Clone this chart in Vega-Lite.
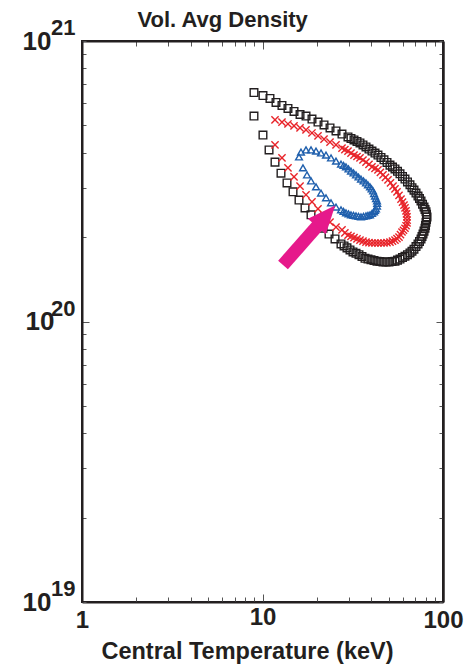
{
  "$schema": "https://vega.github.io/schema/vega-lite/v6.json",
  "width": 361,
  "height": 561,
  "autosize": "none",
  "padding": {"left": 82, "top": 41, "right": 28, "bottom": 67},
  "background": "white",
  "config": {
    "view": {"stroke": "#231f20", "strokeWidth": 2},
    "font": "Liberation Sans"
  },
  "datasets": {
    "pts": [
      {"s":"black","T":8.97,"n":5.40e20},{"s":"black","T":10.06,"n":4.62e20},{"s":"black","T":10.87,"n":4.09e20},{"s":"black","T":11.73,"n":3.70e20},{"s":"black","T":12.66,"n":3.38e20},{"s":"black","T":13.67,"n":3.12e20},{"s":"black","T":14.76,"n":2.90e20},{"s":"black","T":15.93,"n":2.71e20},{"s":"black","T":17.20,"n":2.54e20},{"s":"black","T":18.57,"n":2.40e20},{"s":"black","T":20.04,"n":2.26e20},{"s":"black","T":21.64,"n":2.15e20},{"s":"black","T":23.36,"n":2.05e20},{"s":"black","T":25.22,"n":1.97e20},{"s":"black","T":27.22,"n":1.89e20},{"s":"black","T":28.3,"n":1.86e20},{"s":"black","T":29.38,"n":1.83e20},{"s":"black","T":30.53,"n":1.80e20},{"s":"black","T":31.72,"n":1.77e20},{"s":"black","T":32.96,"n":1.75e20},{"s":"black","T":34.24,"n":1.73e20},{"s":"black","T":35.58,"n":1.705e20},{"s":"black","T":36.97,"n":1.68e20},{"s":"black","T":38.42,"n":1.67e20},{"s":"black","T":39.91,"n":1.66e20},{"s":"black","T":41.47,"n":1.65e20},{"s":"black","T":43.08,"n":1.64e20},{"s":"black","T":44.77,"n":1.635e20},{"s":"black","T":46.51,"n":1.63e20},{"s":"black","T":48.33,"n":1.63e20},{"s":"black","T":50.21,"n":1.63e20},{"s":"black","T":52.17,"n":1.635e20},{"s":"black","T":54.20,"n":1.64e20},{"s":"black","T":55.97,"n":1.655e20},{"s":"black","T":57.78,"n":1.67e20},{"s":"black","T":59.65,"n":1.69e20},{"s":"black","T":61.58,"n":1.71e20},{"s":"black","T":63.58,"n":1.73e20},{"s":"black","T":65.62,"n":1.755e20},{"s":"black","T":67.33,"n":1.78e20},{"s":"black","T":69.07,"n":1.81e20},{"s":"black","T":70.86,"n":1.85e20},{"s":"black","T":72.69,"n":1.89e20},{"s":"black","T":74.10,"n":1.93e20},{"s":"black","T":75.53,"n":1.97e20},{"s":"black","T":76.50,"n":2.01e20},{"s":"black","T":77.49,"n":2.05e20},{"s":"black","T":78.49,"n":2.10e20},{"s":"black","T":79.49,"n":2.15e20},{"s":"black","T":80.0,"n":2.20e20},{"s":"black","T":80.51,"n":2.26e20},{"s":"black","T":81.03,"n":2.31e20},{"s":"black","T":81.55,"n":2.36e20},{"s":"black","T":81.03,"n":2.41e20},{"s":"black","T":80.51,"n":2.46e20},{"s":"black","T":79.49,"n":2.51e20},{"s":"black","T":78.48,"n":2.56e20},{"s":"black","T":77.0,"n":2.62e20},{"s":"black","T":75.53,"n":2.69e20},{"s":"black","T":74.1,"n":2.745e20},{"s":"black","T":72.69,"n":2.80e20},{"s":"black","T":70.86,"n":2.87e20},{"s":"black","T":69.07,"n":2.94e20},{"s":"black","T":67.33,"n":3.00e20},{"s":"black","T":65.62,"n":3.07e20},{"s":"black","T":63.58,"n":3.145e20},{"s":"black","T":61.58,"n":3.22e20},{"s":"black","T":59.65,"n":3.29e20},{"s":"black","T":57.78,"n":3.36e20},{"s":"black","T":55.97,"n":3.43e20},{"s":"black","T":54.20,"n":3.50e20},{"s":"black","T":52.5,"n":3.555e20},{"s":"black","T":50.85,"n":3.61e20},{"s":"black","T":48.95,"n":3.69e20},{"s":"black","T":47.10,"n":3.77e20},{"s":"black","T":45.33,"n":3.845e20},{"s":"black","T":43.63,"n":3.92e20},{"s":"black","T":42.0,"n":3.985e20},{"s":"black","T":40.42,"n":4.05e20},{"s":"black","T":38.9,"n":4.12e20},{"s":"black","T":37.44,"n":4.19e20},{"s":"black","T":36.03,"n":4.26e20},{"s":"black","T":34.68,"n":4.33e20},{"s":"black","T":33.38,"n":4.385e20},{"s":"black","T":32.13,"n":4.44e20},{"s":"black","T":30.92,"n":4.495e20},{"s":"black","T":29.76,"n":4.55e20},{"s":"black","T":27.57,"n":4.66e20},{"s":"black","T":25.54,"n":4.78e20},{"s":"black","T":23.66,"n":4.90e20},{"s":"black","T":21.92,"n":5.02e20},{"s":"black","T":20.30,"n":5.14e20},{"s":"black","T":18.80,"n":5.27e20},{"s":"black","T":17.42,"n":5.40e20},{"s":"black","T":16.14,"n":5.47e20},{"s":"black","T":14.95,"n":5.61e20},{"s":"black","T":13.84,"n":5.75e20},{"s":"black","T":12.82,"n":5.89e20},{"s":"black","T":11.88,"n":6.04e20},{"s":"black","T":11.00,"n":6.24e20},{"s":"black","T":10.06,"n":6.39e20},{"s":"black","T":8.97,"n":6.55e20},
      {"s":"red","T":11.73,"n":4.26e20},{"s":"red","T":12.82,"n":3.83e20},{"s":"red","T":13.84,"n":3.53e20},{"s":"red","T":14.95,"n":3.28e20},{"s":"red","T":16.14,"n":3.04e20},{"s":"red","T":17.42,"n":2.83e20},{"s":"red","T":18.80,"n":2.67e20},{"s":"red","T":20.30,"n":2.52e20},{"s":"red","T":21.92,"n":2.38e20},{"s":"red","T":23.66,"n":2.26e20},{"s":"red","T":25.54,"n":2.17e20},{"s":"red","T":27.57,"n":2.12e20},{"s":"red","T":28.6,"n":2.07e20},{"s":"red","T":29.76,"n":2.03e20},{"s":"red","T":30.92,"n":2.01e20},{"s":"red","T":32.13,"n":1.99e20},{"s":"red","T":33.38,"n":1.97e20},{"s":"red","T":34.68,"n":1.95e20},{"s":"red","T":36.03,"n":1.935e20},{"s":"red","T":37.44,"n":1.92e20},{"s":"red","T":38.9,"n":1.91e20},{"s":"red","T":40.42,"n":1.905e20},{"s":"red","T":42.0,"n":1.905e20},{"s":"red","T":43.63,"n":1.905e20},{"s":"red","T":45.33,"n":1.905e20},{"s":"red","T":47.10,"n":1.905e20},{"s":"red","T":48.95,"n":1.91e20},{"s":"red","T":50.85,"n":1.92e20},{"s":"red","T":52.5,"n":1.935e20},{"s":"red","T":54.20,"n":1.95e20},{"s":"red","T":55.6,"n":1.975e20},{"s":"red","T":57.05,"n":2.00e20},{"s":"red","T":58.15,"n":2.04e20},{"s":"red","T":59.27,"n":2.085e20},{"s":"red","T":60.4,"n":2.115e20},{"s":"red","T":61.58,"n":2.15e20},{"s":"red","T":62.4,"n":2.195e20},{"s":"red","T":63.18,"n":2.245e20},{"s":"red","T":63.3,"n":2.30e20},{"s":"red","T":63.18,"n":2.36e20},{"s":"red","T":62.8,"n":2.42e20},{"s":"red","T":62.37,"n":2.48e20},{"s":"red","T":61.6,"n":2.54e20},{"s":"red","T":60.80,"n":2.60e20},{"s":"red","T":59.65,"n":2.665e20},{"s":"red","T":58.52,"n":2.73e20},{"s":"red","T":57.05,"n":2.815e20},{"s":"red","T":55.62,"n":2.90e20},{"s":"red","T":54.2,"n":2.97e20},{"s":"red","T":52.85,"n":3.04e20},{"s":"red","T":51.2,"n":3.12e20},{"s":"red","T":49.58,"n":3.20e20},{"s":"red","T":48.0,"n":3.265e20},{"s":"red","T":46.51,"n":3.33e20},{"s":"red","T":45.0,"n":3.40e20},{"s":"red","T":43.63,"n":3.47e20},{"s":"red","T":42.0,"n":3.515e20},{"s":"red","T":40.42,"n":3.56e20},{"s":"red","T":38.9,"n":3.63e20},{"s":"red","T":37.44,"n":3.70e20},{"s":"red","T":36.03,"n":3.765e20},{"s":"red","T":34.68,"n":3.83e20},{"s":"red","T":33.38,"n":3.875e20},{"s":"red","T":32.13,"n":3.92e20},{"s":"red","T":30.92,"n":3.985e20},{"s":"red","T":29.76,"n":4.05e20},{"s":"red","T":28.6,"n":4.10e20},{"s":"red","T":27.57,"n":4.15e20},{"s":"red","T":25.54,"n":4.26e20},{"s":"red","T":23.66,"n":4.36e20},{"s":"red","T":21.92,"n":4.47e20},{"s":"red","T":20.30,"n":4.59e20},{"s":"red","T":18.80,"n":4.70e20},{"s":"red","T":17.42,"n":4.82e20},{"s":"red","T":16.14,"n":4.90e20},{"s":"red","T":14.95,"n":4.98e20},{"s":"red","T":13.84,"n":5.06e20},{"s":"red","T":12.82,"n":5.14e20},{"s":"red","T":11.73,"n":5.23e20},
      {"s":"blue","T":15.93,"n":3.86e20},{"s":"blue","T":16.34,"n":4.02e20},{"s":"blue","T":17.42,"n":4.09e20},{"s":"blue","T":18.57,"n":4.09e20},{"s":"blue","T":19.79,"n":4.05e20},{"s":"blue","T":21.09,"n":3.99e20},{"s":"blue","T":22.48,"n":3.92e20},{"s":"blue","T":23.96,"n":3.83e20},{"s":"blue","T":25.54,"n":3.73e20},{"s":"blue","T":27.22,"n":3.64e20},{"s":"blue","T":28.1,"n":3.60e20},{"s":"blue","T":29.01,"n":3.56e20},{"s":"blue","T":29.95,"n":3.50e20},{"s":"blue","T":30.92,"n":3.44e20},{"s":"blue","T":31.93,"n":3.385e20},{"s":"blue","T":32.96,"n":3.33e20},{"s":"blue","T":34.03,"n":3.275e20},{"s":"blue","T":35.13,"n":3.22e20},{"s":"blue","T":36.27,"n":3.17e20},{"s":"blue","T":37.44,"n":3.12e20},{"s":"blue","T":38.4,"n":3.07e20},{"s":"blue","T":39.41,"n":3.02e20},{"s":"blue","T":40.2,"n":2.97e20},{"s":"blue","T":40.95,"n":2.92e20},{"s":"blue","T":41.5,"n":2.86e20},{"s":"blue","T":42.01,"n":2.80e20},{"s":"blue","T":42.55,"n":2.745e20},{"s":"blue","T":43.08,"n":2.69e20},{"s":"blue","T":43.2,"n":2.635e20},{"s":"blue","T":43.08,"n":2.58e20},
      {"s":"blue","T":16.76,"n":3.53e20},{"s":"blue","T":17.64,"n":3.33e20},{"s":"blue","T":18.57,"n":3.17e20},{"s":"blue","T":19.79,"n":3.02e20},{"s":"blue","T":21.09,"n":2.87e20},{"s":"blue","T":22.48,"n":2.76e20},{"s":"blue","T":23.96,"n":2.65e20},{"s":"blue","T":25.54,"n":2.56e20},{"s":"blue","T":27.22,"n":2.50e20},{"s":"blue","T":28.1,"n":2.47e20},{"s":"blue","T":29.01,"n":2.44e20},{"s":"blue","T":29.95,"n":2.42e20},{"s":"blue","T":30.92,"n":2.40e20},{"s":"blue","T":31.93,"n":2.39e20},{"s":"blue","T":32.96,"n":2.38e20},{"s":"blue","T":34.03,"n":2.37e20},{"s":"blue","T":35.13,"n":2.36e20},{"s":"blue","T":36.27,"n":2.37e20},{"s":"blue","T":37.44,"n":2.38e20},{"s":"blue","T":38.4,"n":2.39e20},{"s":"blue","T":39.41,"n":2.40e20},{"s":"blue","T":40.45,"n":2.43e20},{"s":"blue","T":41.47,"n":2.46e20},{"s":"blue","T":42.0,"n":2.49e20},{"s":"blue","T":42.54,"n":2.52e20}
    ],
    "exps": [
      {"T": 1, "n": 1e19, "e": "19"},
      {"T": 1, "n": 1e20, "e": "20"},
      {"T": 1, "n": 1e21, "e": "21"}
    ],
    "arrowShaft": [
      {"T": 12.99, "n": 1.59e20, "T2": 20.82, "n2": 2.245e20}
    ],
    "arrowHead": [
      {"T": 22.48, "n": 2.378e20}
    ]
  },
  "layer": [
    {
      "data": {"name": "pts"},
      "mark": {"type": "point", "filled": false, "strokeWidth": 1.4, "opacity": 1},
      "encoding": {
        "x": {
          "field": "T", "type": "quantitative",
          "scale": {"type": "log", "domain": [1, 100], "nice": false},
          "axis": {
            "orient": "bottom",
            "values": [1,2,3,4,5,6,7,8,9,10,20,30,40,50,60,70,80,90,100],
            "labelExpr": "datum.value == 1 ? '1' : datum.value == 10 ? '10' : datum.value == 100 ? '100' : ''",
            "labelFlush": false, "labelOverlap": false, "labelBound": false,
            "labelFont": "Liberation Sans", "labelFontWeight": "bold", "labelFontSize": 24, "labelColor": "#231f20",
            "labelBaseline": "top", "labelPadding": 11,
            "tickSize": {"condition": {"test": "datum.value == 10", "value": -8}, "value": -5},
            "tickColor": "#555", "tickWidth": 1,
            "domainColor": "#231f20", "domainWidth": 2,
            "grid": false,
            "title": "Central Temperature (keV)",
            "titleFont": "Liberation Sans", "titleFontWeight": "bold", "titleFontSize": 23.5, "titleColor": "#231f20",
            "titleX": 165, "titleY": 56, "titleAlign": "center", "titleBaseline": "alphabetic", "titleAnchor": null
          }
        },
        "y": {
          "field": "n", "type": "quantitative",
          "scale": {"type": "log", "domain": [1e19, 1e21], "nice": false},
          "axis": {
            "orient": "left",
            "values": [1e19,2e19,3e19,4e19,5e19,6e19,7e19,8e19,9e19,1e20,2e20,3e20,4e20,5e20,6e20,7e20,8e20,9e20,1e21],
            "labelExpr": "(datum.value == 1e19 || datum.value == 1e20 || datum.value == 1e21) ? '10' : ''",
            "labelOverlap": false, "labelBound": false, "labelFlush": false,
            "labelFont": "Liberation Sans", "labelFontWeight": "bold", "labelFontSize": 26, "labelColor": "#231f20",
            "labelBaseline": "middle", "labelAlign": "right", "labelPadding": 35,
            "tickSize": {"condition": {"test": "datum.value == 1e20", "value": -7}, "value": -4},
            "tickColor": "#555", "tickWidth": 1,
            "domainColor": "#231f20", "domainWidth": 2,
            "grid": false,
            "title": "Vol. Avg Density",
            "titleAngle": 0,
            "titleX": 55, "titleY": -15,
            "titleAlign": "left", "titleBaseline": "alphabetic", "titleAnchor": null,
            "titleFont": "Liberation Sans", "titleFontWeight": "bold", "titleFontSize": 22, "titleColor": "#231f20"
          }
        },
        "shape": {
          "field": "s", "type": "nominal", "legend": null,
          "scale": {"domain": ["black", "red", "blue"], "range": ["square", "M-1,-1L1,1M-1,1L1,-1", "triangle-up"]}
        },
        "color": {
          "field": "s", "type": "nominal", "legend": null,
          "scale": {"domain": ["black", "red", "blue"], "range": ["#231f20", "#e8242a", "#2060ad"]}
        },
        "size": {
          "field": "s", "type": "nominal", "legend": null,
          "scale": {"domain": ["black", "red", "blue"], "range": [58, 46, 62]}
        }
      }
    },
    {
      "data": {"name": "exps"},
      "mark": {"type": "text", "align": "left", "baseline": "alphabetic", "dx": -31, "dy": -6, "font": "Liberation Sans", "fontWeight": "bold", "fontSize": 22, "color": "#231f20"},
      "encoding": {
        "x": {
          "field": "T", "type": "quantitative",
          "scale": {"type": "log", "domain": [1, 100], "nice": false},
          "axis": {
            "orient": "top",
            "values": [1,2,3,4,5,6,7,8,9,10,20,30,40,50,60,70,80,90,100],
            "labels": false,
            "tickSize": {"condition": {"test": "datum.value == 10", "value": -8}, "value": -5},
            "tickColor": "#555", "tickWidth": 1,
            "domainColor": "#231f20", "domainWidth": 2,
            "grid": false, "title": null
          }
        },
        "y": {
          "field": "n", "type": "quantitative",
          "scale": {"type": "log", "domain": [1e19, 1e21], "nice": false},
          "axis": {
            "orient": "right",
            "values": [1e19,2e19,3e19,4e19,5e19,6e19,7e19,8e19,9e19,1e20,2e20,3e20,4e20,5e20,6e20,7e20,8e20,9e20,1e21],
            "labels": false,
            "tickSize": {"condition": {"test": "datum.value == 1e20", "value": -7}, "value": -4},
            "tickColor": "#555", "tickWidth": 1,
            "domainColor": "#231f20", "domainWidth": 2.5,
            "grid": false, "title": null
          }
        },
        "text": {"field": "e", "type": "nominal"}
      }
    },
    {
      "data": {"name": "arrowShaft"},
      "mark": {"type": "rule", "strokeWidth": 13, "strokeCap": "butt", "color": "#e6198b"},
      "encoding": {
        "x": {"field": "T", "type": "quantitative", "scale": {"type": "log", "domain": [1, 100], "nice": false}, "axis": null},
        "y": {"field": "n", "type": "quantitative", "scale": {"type": "log", "domain": [1e19, 1e21], "nice": false}, "axis": null},
        "x2": {"field": "T2"},
        "y2": {"field": "n2"}
      }
    },
    {
      "data": {"name": "arrowHead"},
      "mark": {"type": "point", "shape": "M0,-1L-0.85,1L0.85,1Z", "filled": true, "size": 780, "angle": 41, "color": "#e6198b", "opacity": 1, "strokeWidth": 0},
      "encoding": {
        "x": {"field": "T", "type": "quantitative", "scale": {"type": "log", "domain": [1, 100], "nice": false}, "axis": null},
        "y": {"field": "n", "type": "quantitative", "scale": {"type": "log", "domain": [1e19, 1e21], "nice": false}, "axis": null}
      }
    }
  ],
  "resolve": {"axis": {"x": "independent", "y": "independent"}}
}
